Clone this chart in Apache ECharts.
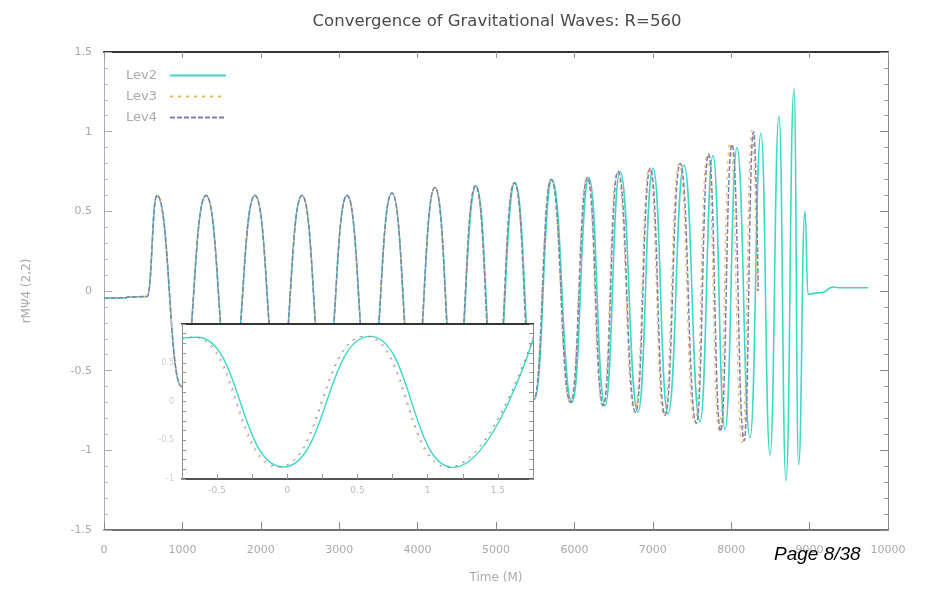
<!DOCTYPE html>
<html>
<head>
<meta charset="utf-8">
<script src="https://cdn.jsdelivr.net/npm/echarts@6/dist/echarts.min.js"></script>
<style>html,body{margin:0;padding:0;background:#fff}#c{width:925px;height:593px}</style>
</head>
<body>
<div id="c"></div>
<script>
// ---- data ----
const titleText = 'Convergence of Gravitational Waves: R=560';
const seriesNames = ['Lev2', 'Lev3', 'Lev4'];
const xTickLabels = ['0','1000','2000','3000','4000','5000','6000','7000','8000','9000','10000'];
const yTickLabels = ['-1.5','-1','-0.5','0','0.5','1','1.5'];
const insetXTickLabels = ['-0.5','0','0.5','1','1.5'];
const insetYTickLabels = ['-1','-0.5','0','0.5','1'];

const lev2Data = [[0,-0.045],[280,-0.043],[300,-0.038],[550,-0.035],
 [676,0.60],[990,-0.60],[1301,0.60],[1615,-0.60],[1926,0.60],[2230,-0.60],[2526,0.60],[2815,-0.60],
 [3100,0.60],[3390,-0.61],[3673,0.615],[3950,-0.63],[4222,0.65],[4485,-0.65],[4745,0.66],[4995,-0.67],
 [5242,0.68],[5490,-0.68],[5714,0.70],[5969,-0.70],[6186,0.71],[6390,-0.72],[6582,0.75],[6811,-0.76],
 [7003,0.77],[7194,-0.77],[7398,0.79],[7602,-0.82],[7768,0.85],[7921,-0.87],[8074,0.90],[8240,-0.92],
 [8380,0.99],[8495,-1.03],[8610,1.10],[8699,-1.19],[8801,1.27],[8860,-1.09],[8941,0.50],[8980,-0.02],
 [9150,-0.01],[9300,0.025],[9400,0.02],[9745,0.02]];

const lev3Data = [[0,-0.045],[280,-0.043],[300,-0.038],[550,-0.035],
 [676,0.60],[990,-0.60],[1301,0.60],[1615,-0.60],[1926,0.60],[2230,-0.60],[2526,0.60],[2815,-0.60],
 [3100,0.60],[3390,-0.61],[3673,0.615],[3950,-0.63],[4220,0.65],[4480,-0.65],[4738,0.66],[4985,-0.67],
 [5232,0.68],[5478,-0.68],[5700,0.70],[5945,-0.70],[6160,0.71],[6358,-0.72],[6545,0.75],[6768,-0.76],
 [6955,0.77],[7140,-0.78],[7335,0.80],[7535,-0.83],[7695,0.86],[7845,-0.88],[7985,0.93],[8140,-0.95],
 [8265,1.01],[8330,0.0]];

const lev4Data = [[0,-0.045],[280,-0.043],[300,-0.038],[550,-0.035],
 [676,0.60],[990,-0.60],[1301,0.60],[1615,-0.60],[1926,0.60],[2230,-0.60],[2526,0.60],[2815,-0.60],
 [3100,0.60],[3390,-0.61],[3673,0.615],[3950,-0.63],[4221,0.65],[4482,-0.65],[4740,0.66],[4988,-0.67],
 [5235,0.68],[5482,-0.68],[5704,0.70],[5952,-0.70],[6168,0.71],[6368,-0.72],[6556,0.75],[6780,-0.76],
 [6968,0.77],[7156,-0.78],[7350,0.80],[7555,-0.83],[7712,0.86],[7865,-0.88],[8010,0.92],[8165,-0.94],
 [8285,1.00],[8345,0.0]];

const insetLev2 = [[-0.75,0.82],[-0.64,0.83],[-0.03,-0.845],[0.59,0.84],[1.18,-0.85],[1.75,0.80]];
const insetLev3 = [[-0.75,0.80],[-0.67,0.83],[-0.07,-0.85],[0.55,0.84],[1.14,-0.85],[1.75,0.83]];
const insetLev4 = [[-0.75,0.81],[-0.66,0.83],[-0.06,-0.84],[0.56,0.845],[1.15,-0.85],[1.75,0.82]];

// ---- styling ----
const colors = ['#3ed8c3', '#f2b35a', '#8080b0'];
const FONT = 'DejaVu Sans';
const chart = echarts.init(document.getElementById('c'), null, {renderer: 'canvas'});

const tickIn = (len, color) => ({show: true, inside: true, length: len, lineStyle: {color: color}});
const line = (color, width) => ({show: true, onZero: false, lineStyle: {color: color, width: width}});

const option = {
  backgroundColor: '#fff',
  animation: false,
  title: {
    text: titleText, left: 492, top: 8, textAlign: 'center',
    textStyle: {fontFamily: FONT, fontSize: 16.5, fontWeight: 'normal', color: '#4a4a4a'}
  },
  legend: {
    orient: 'vertical', left: 121, top: 64, align: 'right',
    itemWidth: 56, itemHeight: 10, itemGap: 8,
    itemStyle: {opacity: 0, borderWidth: 0},
    textStyle: {fontFamily: FONT, fontSize: 13, color: '#aaa', padding: [0, 8, 0, 0]},
    data: seriesNames
  },
  grid: [
    {left: 104, right: 37, top: 52, bottom: 63, containLabel: false},
    {left: 182, top: 324, width: 351, height: 155, containLabel: false}
  ],
  xAxis: [
    {type: 'value', gridIndex: 0, min: 0, max: 10000, interval: 1000, position: 'bottom',
     name: 'Time (M)', nameLocation: 'middle', nameGap: 42,
     nameTextStyle: {fontFamily: FONT, fontSize: 12, color: '#aaa'},
     axisLine: line('#444', 1.5),
     axisTick: tickIn(8, '#888'),
     axisLabel: {margin: 15, fontFamily: FONT, fontSize: 11, color: '#aaa',
       formatter: v => xTickLabels[Math.round(v / 1000)]},
     splitLine: {show: false}},
    {type: 'value', gridIndex: 0, min: 0, max: 10000, interval: 1000, position: 'top',
     axisLine: line('#333', 2),
     axisTick: tickIn(6, '#999'), axisLabel: {show: false}, splitLine: {show: false}},
    {type: 'value', gridIndex: 1, min: -0.75, max: 1.75, interval: 0.25, position: 'bottom', z: 20,
     axisLine: line('#555', 2),
     axisTick: tickIn(5, '#999'),
     axisLabel: {margin: 7, fontFamily: FONT, fontSize: 9, color: '#bbb',
       formatter: v => { const r = (v + 0.5) / 0.5, i = Math.round(r); return (Math.abs(r - i) < 1e-6 && i >= 0 && i < insetXTickLabels.length) ? insetXTickLabels[i] : ''; }},
     splitLine: {show: false}},
    {type: 'value', gridIndex: 1, min: -0.75, max: 1.75, interval: 0.25, position: 'top', z: 20,
     axisLine: line('#333', 2),
     axisTick: {show: false}, axisLabel: {show: false}, splitLine: {show: false}}
  ],
  yAxis: [
    {type: 'value', gridIndex: 0, min: -1.5, max: 1.5, interval: 0.5, position: 'left',
     name: 'rMΨ4 (2,2)', nameLocation: 'middle', nameGap: 71, nameRotate: 90,
     nameTextStyle: {fontFamily: FONT, fontSize: 12, color: '#aaa'},
     axisLine: line('#aab', 1),
     axisTick: tickIn(8, '#aab'),
     minorTick: {show: true, splitNumber: 5, length: 4, lineStyle: {color: '#bbc'}},
     axisLabel: {margin: 12, fontFamily: FONT, fontSize: 11, color: '#aaa',
       formatter: v => yTickLabels[Math.round((v + 1.5) / 0.5)]},
     splitLine: {show: false}},
    {type: 'value', gridIndex: 0, min: -1.5, max: 1.5, interval: 0.5, position: 'right',
     axisLine: line('#888', 1),
     axisTick: tickIn(8, '#888'),
     minorTick: {show: true, splitNumber: 5, length: 4, lineStyle: {color: '#999'}},
     axisLabel: {show: false}, splitLine: {show: false}},
    {type: 'value', gridIndex: 1, min: -1, max: 1, interval: 0.125, position: 'left', z: 20,
     axisLine: line('#888', 1),
     axisTick: tickIn(4, '#999'),
     axisLabel: {margin: 8, fontFamily: FONT, fontSize: 8, color: '#ccc',
       formatter: v => { const r = (v + 1) / 0.5, i = Math.round(r); return (Math.abs(r - i) < 1e-6) ? insetYTickLabels[i] : ''; }},
     splitLine: {show: false}},
    {type: 'value', gridIndex: 1, min: -1, max: 1, interval: 0.125, position: 'right', z: 20,
     axisLine: line('#888', 1),
     axisTick: tickIn(4, '#999'), axisLabel: {show: false}, splitLine: {show: false}}
  ],
  graphic: [
    {type: 'rect', z: 10, silent: true,
     shape: {x: 182, y: 324, width: 351, height: 155},
     style: {fill: '#fff'}},
    {type: 'text', z: 100, left: 774, top: 545,
     style: {text: 'Page 8/38', fontFamily: 'Liberation Sans', fontStyle: 'italic', fontSize: 19, fill: '#000'}}
  ],
  series: [
    {name: seriesNames[0], type: 'line', xAxisIndex: 0, yAxisIndex: 0, data: lev2Data,
     symbol: 'none', smooth: 0.5, smoothMonotone: 'x', z: 2,
     lineStyle: {color: colors[0], width: 1.6}, itemStyle: {color: colors[0]}},
    {name: seriesNames[1], type: 'line', xAxisIndex: 0, yAxisIndex: 0, data: lev3Data,
     symbol: 'none', smooth: 0.5, smoothMonotone: 'x', z: 3,
     lineStyle: {color: colors[1], width: 1.2, type: [3, 5]}, itemStyle: {color: colors[1]}},
    {name: seriesNames[2], type: 'line', xAxisIndex: 0, yAxisIndex: 0, data: lev4Data,
     symbol: 'none', smooth: 0.5, smoothMonotone: 'x', z: 4,
     lineStyle: {color: colors[2], width: 1.5, type: [5, 2]}, itemStyle: {color: colors[2]}},
    {name: seriesNames[0], type: 'line', xAxisIndex: 2, yAxisIndex: 2, data: insetLev2,
     symbol: 'none', smooth: 0.5, smoothMonotone: 'x', z: 20,
     lineStyle: {color: colors[0], width: 1.4}},
    {name: seriesNames[1], type: 'line', xAxisIndex: 2, yAxisIndex: 2, data: insetLev3,
     symbol: 'none', smooth: 0.5, smoothMonotone: 'x', z: 21,
     lineStyle: {color: colors[1], width: 1, type: [2, 6]}},
    {name: seriesNames[2], type: 'line', xAxisIndex: 2, yAxisIndex: 2, data: insetLev4,
     symbol: 'none', smooth: 0.5, smoothMonotone: 'x', z: 22,
     lineStyle: {color: colors[2], width: 1, type: [2, 6]}}
  ]
};
chart.setOption(option);
</script>
</body>
</html>
